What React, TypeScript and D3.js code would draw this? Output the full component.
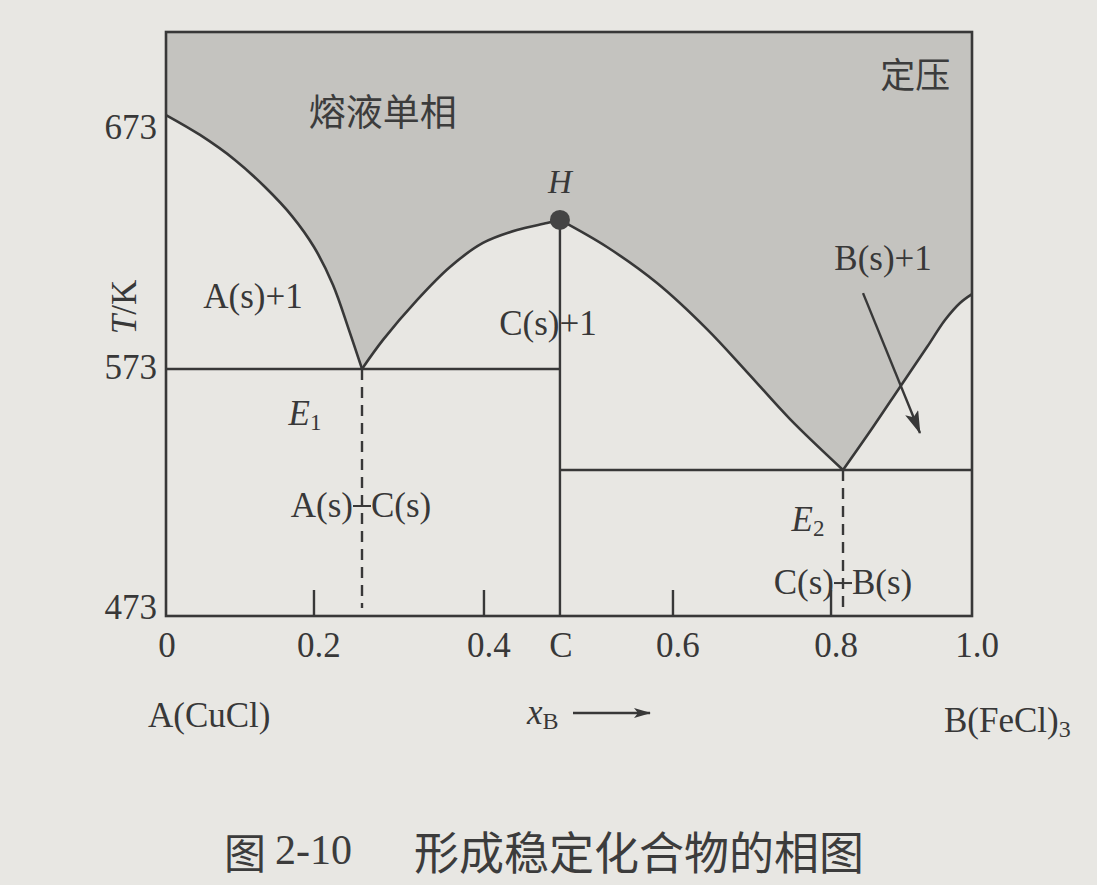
import React from "react";
import * as d3 from "d3";

// ---------------- data (x in mole fraction of B, T in K) ----------------
const xTickValues = [0, 0.2, 0.4, 0.6, 0.8, 1.0];
const xTickLabels = ["0", "0.2", "0.4", "0.6", "0.8", "1.0"];
const xInnerTicks = [0.2, 0.4, 0.6, 0.8];
const yTickValues = [473, 573, 673];
const yTickLabels = ["473", "573", "673"];

const compoundX = 0.4804;
const compoundName = "C";
const meltPointT = 634.3;
const eutectic1X = 0.2565;
const eutectic1T = 572.2;
const eutectic2X = 0.817;
const eutectic2T = 530.1;

const liquidusA: [number, number][] = [
  [0, 678], [0.046, 669.7], [0.0932, 659.3], [0.1338, 648.0], [0.1703, 635.9],
  [0.2, 623.0], [0.2224, 607.2], [0.2412, 588.4], [0.2565, 572.2],
];
const liquidusCLeft: [number, number][] = [
  [0.2565, 572.2], [0.2812, 584.3], [0.3212, 600.9], [0.36, 614.7],
  [0.3988, 624.7], [0.4349, 630.1], [0.4667, 633.0], [0.4804, 634.3],
];
const liquidusCRight: [number, number][] = [
  [0.4804, 634.3], [0.5302, 623.0], [0.5831, 608.0], [0.643, 588.8],
  [0.6937, 570.9], [0.7481, 551.3], [0.817, 530.1],
];
const liquidusB: [number, number][] = [
  [0.817, 530.1], [0.8596, 548.0], [0.8979, 564.7], [0.9362, 581.3],
  [0.9617, 592.6], [0.983, 599.7], [1.0, 603.4],
];
const pointerArrow: [number, number][] = [[0.8454, 603.8], [0.9262, 545.5]];

const regionLabels = [
  { text: "A(s)+1", x: 0.1176, T: 602.2 },
  { text: "C(s)+1", x: 0.4677, T: 591.3 },
  { text: "B(s)+1", x: 0.8738, T: 618.4 },
];
const liquidLabel = { text: "熔液单相", x: 0.281, T: 680.1 };
const pressureLabel = { text: "定压", x: 0.969, T: 695.9 };
const solidLabels = [
  { left: "A(s)", right: "C(s)", x: eutectic1X, T: 515.5 },
  { left: "C(s)", right: "B(s)", x: eutectic2X, T: 483.4 },
];
const eutecticLabels = [
  { sub: "1", x: 0.1878, T: 553.8 },
  { sub: "2", x: 0.7709, T: 509.7 },
];

// ---------------- layout ----------------
const W = 1097;
const H = 885;
const frame = { left: 166, right: 972, top: 32, bottom: 616 };
// schematic (hand drawn) axis: positions of the tick stops as fractions of width
const xStopFractions = [0, 0.1836, 0.3945, 0.6290, 0.8251, 1];
const T_MIN = 469.25;
const T_MAX = 712.6;

const INK = "#383838";
const BG = "#e8e7e3";
const SHADE = "#c4c3bf";
const SERIF = "'Liberation Serif', 'Times New Roman', serif";
const CJK = "'Noto Sans CJK SC', sans-serif";

export default function App() {
  const fw = frame.right - frame.left;
  const x = d3
    .scaleLinear()
    .domain(xTickValues)
    .range(xStopFractions.map((f) => frame.left + f * fw));
  const y = d3.scaleLinear().domain([T_MIN, T_MAX]).range([frame.bottom, frame.top]);

  const line = d3
    .line<[number, number]>()
    .x((d) => x(d[0]))
    .y((d) => y(d[1]))
    .curve(d3.curveCatmullRom.alpha(0.5));

  const branches = [liquidusA, liquidusCLeft, liquidusCRight, liquidusB];
  const branchPaths = branches.map((b) => line(b) as string);
  const areaPath =
    `M${x(0)},${y(T_MAX)}L${x(0)},${y(liquidusA[0][1])}` +
    branchPaths.map((p) => p.replace(/^M/, "L")).join("") +
    `L${x(1)},${y(T_MAX)}Z`;

  const fs = 35;

  return (
    <svg
      width={W}
      height={H}
      viewBox={`0 0 ${W} ${H}`}
      style={{ position: "absolute", left: 0, top: 0, display: "block" }}
    >
      <defs>
        <marker
          id="ah"
          markerUnits="userSpaceOnUse"
          markerWidth={26}
          markerHeight={16}
          refX={22}
          refY={7}
          orient="auto"
        >
          <path d="M0,0 L23,7 L0,14 L5,7 Z" fill={INK} />
        </marker>
        <marker
          id="ah2"
          markerUnits="userSpaceOnUse"
          markerWidth={20}
          markerHeight={12}
          refX={16}
          refY={5}
          orient="auto"
        >
          <path d="M0,0 L17,5 L0,10 L4,5 Z" fill={INK} />
        </marker>
      </defs>
      <rect x={0} y={0} width={W} height={H} fill={BG} />

      {/* liquid region */}
      <path d={areaPath} fill={SHADE} stroke="none" />

      {/* liquidus curves */}
      {branchPaths.map((p, i) => (
        <path key={i} d={p} fill="none" stroke={INK} strokeWidth={2.6} />
      ))}

      {/* eutectic lines */}
      <line x1={x(0)} x2={x(compoundX)} y1={y(eutectic1T)} y2={y(eutectic1T)} stroke={INK} strokeWidth={2.4} />
      <line x1={x(compoundX)} x2={x(1)} y1={y(eutectic2T)} y2={y(eutectic2T)} stroke={INK} strokeWidth={2.4} />

      {/* compound line */}
      <line x1={x(compoundX)} x2={x(compoundX)} y1={y(meltPointT)} y2={y(T_MIN)} stroke={INK} strokeWidth={2.4} />

      {/* dashed eutectic composition lines */}
      {[
        [eutectic1X, eutectic1T],
        [eutectic2X, eutectic2T],
      ].map(([ex, et], i) => (
        <line
          key={i}
          x1={x(ex)}
          x2={x(ex)}
          y1={y(et)}
          y2={y(T_MIN) - 8}
          stroke={INK}
          strokeWidth={2.4}
          strokeDasharray="11 7"
        />
      ))}

      {/* inner ticks */}
      {xInnerTicks.map((t) => (
        <line key={t} x1={x(t)} x2={x(t)} y1={y(T_MIN)} y2={y(T_MIN) - 26} stroke={INK} strokeWidth={2.4} />
      ))}

      {/* frame */}
      <rect
        x={frame.left}
        y={frame.top}
        width={fw}
        height={frame.bottom - frame.top}
        fill="none"
        stroke={INK}
        strokeWidth={2.6}
      />

      {/* melting point */}
      <circle cx={x(compoundX)} cy={y(meltPointT)} r={10} fill="#444" />

      {/* pointer arrow */}
      <line
        x1={x(pointerArrow[0][0])}
        y1={y(pointerArrow[0][1])}
        x2={x(pointerArrow[1][0])}
        y2={y(pointerArrow[1][1])}
        stroke={INK}
        strokeWidth={2.4}
        markerEnd="url(#ah)"
      />

      <g fill={INK} fontFamily={SERIF} fontSize={fs}>
        {/* x tick labels */}
        {xTickValues.map((t, i) => (
          <text key={t} x={x(t) + (i === 0 ? 1 : 5)} y={frame.bottom + 29} textAnchor="middle" dominantBaseline="central">
            {xTickLabels[i]}
          </text>
        ))}
        <text x={x(compoundX) + 1} y={frame.bottom + 29} textAnchor="middle" dominantBaseline="central">
          {compoundName}
        </text>

        {/* y tick labels */}
        {yTickValues.map((t, i) => (
          <text key={t} x={frame.left - 9} y={y(t)} textAnchor="end" dominantBaseline="central">
            {yTickLabels[i]}
          </text>
        ))}

        {/* y axis title */}
        <text
          transform={`translate(124, ${y(598)}) rotate(-90)`}
          textAnchor="middle"
          dominantBaseline="central"
        >
          <tspan fontStyle="italic">T</tspan>/K
        </text>

        {/* region labels */}
        {regionLabels.map((l) => (
          <text key={l.text + l.x} x={x(l.x)} y={y(l.T)} textAnchor="middle" dominantBaseline="central">
            {l.text}
          </text>
        ))}

        {/* H */}
        <text x={x(compoundX)} y={y(650.1)} textAnchor="middle" dominantBaseline="central" fontStyle="italic" fontSize={33}>
          H
        </text>

        {/* eutectic labels */}
        {eutecticLabels.map((l) => (
          <text key={l.sub} x={x(l.x)} y={y(l.T)} textAnchor="middle" dominantBaseline="central">
            <tspan fontStyle="italic">E</tspan>
            <tspan fontSize={23} dy={9}>
              {l.sub}
            </tspan>
          </text>
        ))}

        {/* solid mixtures */}
        {solidLabels.map((l) => (
          <g key={l.left + l.right}>
            <text x={x(l.x) - 9} y={y(l.T)} textAnchor="end" dominantBaseline="central">
              {l.left}
            </text>
            <line x1={x(l.x) - 9} x2={x(l.x) + 9} y1={y(l.T) + 1} y2={y(l.T) + 1} stroke={INK} strokeWidth={2} />
            <text x={x(l.x) + 9} y={y(l.T)} textAnchor="start" dominantBaseline="central">
              {l.right}
            </text>
          </g>
        ))}

        {/* component labels */}
        <text x={148} y={715} dominantBaseline="central">
          A(CuCl)
        </text>
        <text x={944} y={720} dominantBaseline="central">
          B(FeCl)
          <tspan fontSize={24} dy={9}>
            3
          </tspan>
        </text>
        <text x={527} y={712} dominantBaseline="central">
          <tspan fontStyle="italic">x</tspan>
          <tspan fontSize={24} dy={9}>
            B
          </tspan>
        </text>
        <line x1={573} x2={650} y1={713} y2={713} stroke={INK} strokeWidth={2.4} markerEnd="url(#ah2)" />
      </g>

      {/* Chinese labels */}
      <g fill="#3c3c3c" fontFamily={CJK}>
        <text x={x(liquidLabel.x)} y={y(liquidLabel.T)} textAnchor="middle" dominantBaseline="central" fontSize={37}>
          {liquidLabel.text}
        </text>
        <text x={x(pressureLabel.x)} y={y(pressureLabel.T)} textAnchor="end" dominantBaseline="central" fontSize={35}>
          {pressureLabel.text}
        </text>
        {/* caption */}
        <text x={224} y={850} dominantBaseline="central" fontSize={42}>
          图
        </text>
        <text x={275} y={850} dominantBaseline="central" fontSize={42} fontFamily={SERIF}>
          2-10
        </text>
        <text x={414} y={850} dominantBaseline="central" fontSize={45}>
          形成稳定化合物的相图
        </text>
      </g>
    </svg>
  );
}
